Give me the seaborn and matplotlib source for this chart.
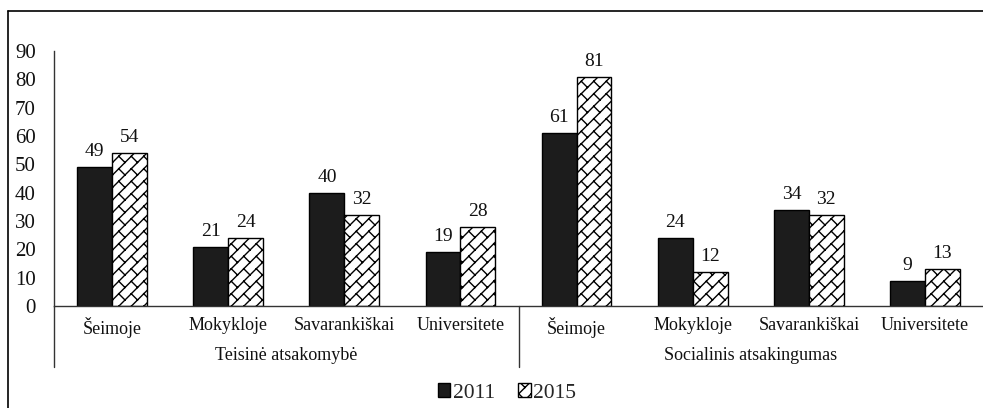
import numpy as np
import pandas as pd
import matplotlib
matplotlib.use("Agg")
import matplotlib.pyplot as plt
import matplotlib.hatch as mhatch
from matplotlib.path import Path
from matplotlib.lines import Line2D
from matplotlib.patches import Patch
import seaborn as sns

# ---------------- data ----------------
groups = ["Teisinė atsakomybė", "Socialinis atsakingumas"]
categories = ["Šeimoje", "Mokykloje", "Savarankiškai", "Universitete"]
years = ["2011", "2015"]
values_2011 = [49, 21, 40, 19, 61, 24, 34, 9]
values_2015 = [54, 24, 32, 28, 81, 12, 32, 13]
y_ticks = [0, 10, 20, 30, 40, 50, 60, 70, 80, 90]


# ---------------- custom diagonal-brick hatch (mapped to '*') ----------------
class DiagonalBrickHatch(mhatch.HatchPatternBase):
    def __init__(self, hatch, density):
        cnt = hatch.count('*')
        self.segs = []
        if cnt:
            n = 8 * cnt          # continuous lines per unit
            p = 4 * cnt          # bricks per unit along s
            h = 1.0 / n
            S = 1.0 / p
            for k in range(-n - 3, n + 4):
                self.segs.append(((-1.0, -1.0 + k * h), (2.0, 2.0 + k * h)))
                off = (k % 2) * S / 2
                for j in range(-3 * p, 4 * p):
                    s = j * S + off
                    t = (s - k * h) / 2.0
                    x0, y0 = t, t + k * h
                    if -0.6 < x0 < 1.6 and -0.6 < y0 < 1.6:
                        self.segs.append(((x0, y0), (x0 - h / 2, y0 + h / 2)))
        self.num_vertices = 2 * len(self.segs)

    def set_vertices_and_codes(self, vertices, codes):
        for i, (a, b) in enumerate(self.segs):
            vertices[2 * i] = a
            vertices[2 * i + 1] = b
            codes[2 * i] = Path.MOVETO
            codes[2 * i + 1] = Path.LINETO


mhatch._hatch_types = [DiagonalBrickHatch if c is mhatch.Stars else c
                       for c in mhatch._hatch_types]

# ---------------- dataframe ----------------
keys = [f"{g}|{c}" for g in groups for c in categories]
df = pd.DataFrame({
    "key": keys * 2,
    "year": [years[0]] * len(keys) + [years[1]] * len(keys),
    "value": values_2011 + values_2015,
})

sns.set_theme(style="white")
plt.rcParams["font.family"] = ["Liberation Serif", "DejaVu Serif"]
plt.rcParams["hatch.linewidth"] = 1.0

fig = plt.figure(figsize=(9.83, 4.08), dpi=100)
W, H = 983, 408
ax = fig.add_axes([54 / W, 1 - 306 / H, (983 - 54) / W, (306 - 51) / H])

sns.barplot(data=df, x="key", y="value", hue="year", order=keys,
            hue_order=years, palette=["#1c1c1c", "white"], width=0.6,
            saturation=1, edgecolor="black", linewidth=1.0, ax=ax,
            legend=False)

for bar in ax.containers[1]:
    bar.set_hatch("*")
    bar.set_edgecolor("black")

for cont in ax.containers:
    ax.bar_label(cont, padding=5, fontsize=14, color="#111111")

ax.set_ylim(0, 90)
ax.set_yticks(y_ticks)
ax.set_xlim(-0.5, len(keys) - 0.5)
ax.set_xticks(range(len(keys)))
ax.set_xticklabels(categories * 2, fontsize=13)
ax.tick_params(axis="x", length=0, pad=8, colors="#111111")
ax.tick_params(axis="y", length=0, pad=13, labelsize=15, colors="#111111")
ax.set_xlabel("")
ax.set_ylabel("")

for side in ["top", "right"]:
    ax.spines[side].set_visible(False)
for side in ["left", "bottom"]:
    ax.spines[side].set_color("#333333")
    ax.spines[side].set_linewidth(1.0)

ext = -(367 - 306) / (306 - 51)
trans = ax.get_xaxis_transform()
ax.add_line(Line2D([-0.5, -0.5], [ext, 0], transform=trans, color="#333333",
                   lw=1.0, clip_on=False))
ax.add_line(Line2D([3.5, 3.5], [ext, 0], transform=trans, color="#333333",
                   lw=1.0, clip_on=False))

gy = -(355 - 306) / (306 - 51)
for i, g in enumerate(groups):
    ax.text(i * 4 + 1.5, gy, g, transform=trans, ha="center", va="center",
            fontsize=13, color="#111111")

handles = [Patch(facecolor="#1c1c1c", edgecolor="black", lw=1.0),
           Patch(facecolor="white", edgecolor="black", lw=1.0, hatch="*")]
fig.legend(handles, years, loc="center", bbox_to_anchor=(507 / W, 1 - 393 / H),
           ncol=2, frameon=False, fontsize=15.5, handlelength=0.6,
           handleheight=0.6, handletextpad=0.1, columnspacing=1.1)

# outer frame (top and left edges visible in the reference)
fig.add_artist(Line2D([7.5 / W, 7.5 / W], [0, 1 - 11 / H], transform=fig.transFigure,
                      color="black", lw=1.2))
fig.add_artist(Line2D([7.5 / W, 1], [1 - 11 / H, 1 - 11 / H], transform=fig.transFigure,
                      color="black", lw=1.2))

fig.savefig("out.png", dpi=100)
